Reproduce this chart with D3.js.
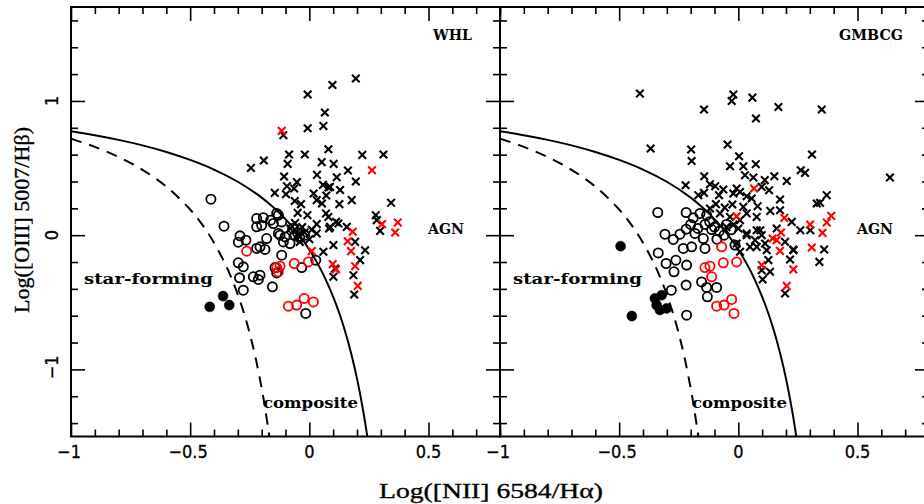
<!DOCTYPE html>
<html><head><meta charset="utf-8">
<script src="https://cdn.jsdelivr.net/npm/d3@7"></script>
<style>body{margin:0;background:#fff}svg{display:block}</style>
</head><body><svg id="c" width="924" height="504"></svg>
<script>
// ---------- DATA ----------
const panelNames = ["WHL", "GMBCG"];
const xDomain = [-1, 0.8];
const yDomain = [-1.5, 1.7];
const xMajorTicks = [-1, -0.5, 0, 0.5];
const yMajorTicks = [-1, 0, 1];
const xTickLabels = ["\u22121", "\u22120.5", "0", "0.5"];
const yTickLabels = ["\u22121", "0", "1"];

// Kewley et al. 2001 (solid) and Kauffmann et al. 2003 (dashed) demarcation points
const kewleyCurve = [[-1,0.775],[-0.9,0.745],[-0.8,0.710],[-0.7,0.669],[-0.6,0.620],[-0.5,0.561],[-0.4,0.489],[-0.3,0.398],[-0.2,0.280],[-0.15,0.206],[-0.1,0.120],[-0.05,0.017],[0,-0.108],[0.05,-0.262],[0.1,-0.459],[0.125,-0.578],[0.15,-0.716],[0.175,-0.878],[0.2,-1.069],[0.225,-1.300],[0.243,-1.497]];
const kauffmannCurve = [[-1,0.719],[-0.9,0.658],[-0.8,0.582],[-0.7,0.487],[-0.6,0.362],[-0.5,0.191],[-0.45,0.080],[-0.4,-0.056],[-0.35,-0.225],[-0.325,-0.327],[-0.3,-0.443],[-0.275,-0.577],[-0.25,-0.733],[-0.225,-0.918],[-0.2,-1.14],[-0.185,-1.296],[-0.168,-1.498]];

// WHL panel
const whlAgn = [[0.195,1.167],[0.097,1.119],[-0.007,1.048],[0.065,0.914],[-0.007,0.797],[0.059,0.814],[-0.109,0.745],[-0.085,0.601],[-0.019,0.601],[0.080,0.640],[0.222,0.598],[0.311,0.601],[-0.245,0.501],[-0.191,0.556],[-0.091,0.531],[0.052,0.544],[0.102,0.531],[0.162,0.482],[-0.106,0.437],[0.032,0.449],[0.115,0.432],[0.195,0.400],[-0.052,0.395],[-0.094,0.365],[-0.064,0.348],[0.057,0.375],[0.080,0.355],[0.129,0.337],[-0.145,0.315],[-0.098,0.305],[0.018,0.310],[0.071,0.296],[-0.061,0.255],[-0.035,0.231],[0.031,0.261],[0.053,0.236],[0.126,0.231],[0.178,0.261],[0.343,0.241],[-0.049,0.166],[-0.008,0.149],[0.070,0.162],[0.080,0.136],[0.112,0.099],[0.279,0.149],[0.283,0.112],[0.031,0.082],[0.083,0.050],[0.157,0.062],[0.297,0.032],[0.031,0.013],[0.122,0.087],[0.192,-0.050],[0.234,-0.112],[0.213,-0.186],[0.101,-0.074],[0.059,-0.124],[0.101,-0.310],[0.108,-0.248],[0.185,-0.298],[0.188,-0.442],[-0.08,0.05],[-0.05,0.0],[-0.03,0.06],[-0.02,0.02],[0.0,-0.03],[-0.06,0.09],[0.01,0.04],[-0.04,-0.05],[0.087,0.360],[0.087,0.062]];
const whlAgnRed = [[-0.116,0.777],[0.263,0.484],[0.305,0.082],[0.371,0.095],[0.360,0.020],[0.182,0.025],[0.010,-0.119],[0.161,-0.045],[0.175,-0.119],[0.098,-0.216],[0.112,-0.255],[0.192,-0.231],[0.203,-0.378]];
const whlComp = [[-0.413,0.268],[-0.358,0.067],[-0.221,0.124],[-0.193,0.130],[-0.200,0.074],[-0.221,0.062],[-0.162,0.112],[-0.130,0.149],[-0.151,0.087],[-0.116,0.099],[-0.137,0.162],[-0.291,-0.005],[-0.266,-0.037],[-0.298,-0.052],[-0.179,-0.025],[-0.207,-0.087],[-0.221,-0.099],[-0.186,-0.106],[-0.123,0.0],[-0.109,-0.050],[-0.081,-0.062],[-0.130,0.013],[-0.102,-0.013],[-0.116,-0.149],[-0.298,-0.206],[-0.277,-0.236],[-0.235,-0.310],[-0.214,-0.330],[-0.207,-0.298],[-0.293,-0.318],[-0.277,-0.410],[-0.155,-0.385],[-0.144,-0.241],[-0.137,-0.281],[-0.032,-0.241],[0.027,-0.186],[-0.015,-0.583],[-0.07,0.05],[-0.05,0.02],[-0.04,-0.02],[-0.06,0.0],[-0.02,0.0]];
const whlCompRed = [[-0.263,-0.119],[-0.137,-0.241],[-0.123,-0.231],[-0.130,-0.273],[-0.063,-0.211],[-0.004,-0.199],[-0.088,-0.529],[-0.053,-0.521],[-0.022,-0.471],[0.017,-0.497]];
const whlSF = [[-0.362,-0.454],[-0.418,-0.534],[-0.336,-0.521]];

// GMBCG panel
const gmbAgn = [[-0.413,1.055],[-0.021,1.048],[-0.028,1.0],[0.059,1.025],[-0.144,0.936],[0.168,0.955],[0.074,0.869],[0.350,0.936],[-0.368,0.646],[-0.198,0.638],[-0.196,0.553],[-0.045,0.675],[0.003,0.588],[-0.035,0.514],[0.021,0.514],[0.073,0.529],[0.309,0.601],[0.262,0.484],[0.280,0.464],[-0.143,0.439],[0.028,0.447],[0.063,0.430],[0.151,0.439],[0.203,0.404],[0.111,0.410],[-0.221,0.372],[-0.119,0.380],[-0.097,0.365],[-0.063,0.340],[-0.007,0.348],[0.007,0.322],[0.098,0.360],[0.129,0.335],[-0.168,0.298],[-0.144,0.315],[-0.081,0.298],[0.035,0.290],[-0.021,0.310],[0.175,0.266],[0.371,0.298],[0.343,0.241],[-0.025,0.229],[0.021,0.211],[0.056,0.273],[0.081,0.216],[0.134,0.181],[0.175,0.186],[0.224,0.099],[0.260,0.037],[0.302,0.037],[0.161,0.050],[-0.094,0.231],[-0.119,0.199],[-0.077,0.162],[-0.035,0.136],[0.007,0.112],[0.035,0.162],[0.077,0.136],[0.077,0.037],[0.035,0.013],[0.636,0.430],[0.360,-0.107],[0.231,-0.107],[0.329,0.236],[-0.057,0.205],[0.092,0.037],[0.098,0.0],[0.035,0.0],[0.049,-0.087],[0.070,-0.037],[0.112,-0.062],[0.077,-0.087],[0.119,-0.112],[0.126,-0.186],[0.196,-0.050],[0.217,-0.181],[0.098,-0.261],[0.133,-0.273],[0.102,-0.330],[0.231,-0.112],[0.196,-0.434],[0.340,-0.199],[-0.007,-0.062],[0.007,-0.124],[-0.05,0.06],[-0.02,0.08],[0.0,0.05]];
const gmbAgnRed = [[0.066,0.348],[-0.007,0.141],[0.193,0.129],[0.390,0.144],[0.371,0.095],[0.301,0.080],[0.353,0.017],[0.179,0.020],[0.144,-0.025],[0.308,-0.092],[0.175,-0.117],[0.161,-0.037],[0.098,-0.223],[0.231,-0.255],[0.203,-0.378]];
const gmbComp = [[-0.338,0.169],[-0.219,0.169],[-0.189,0.129],[-0.161,0.162],[-0.133,0.149],[-0.308,0.007],[-0.273,-0.032],[-0.245,0.007],[-0.219,0.045],[-0.182,0.013],[-0.147,-0.025],[-0.112,0.042],[-0.231,-0.099],[-0.196,-0.087],[-0.140,-0.099],[-0.336,-0.132],[-0.303,-0.211],[-0.262,-0.186],[-0.270,-0.273],[-0.217,-0.223],[-0.281,-0.410],[-0.219,-0.372],[-0.154,-0.348],[-0.133,-0.389],[-0.091,-0.389],[-0.130,-0.459],[-0.217,-0.596],[-0.014,-0.074],[-0.2,0.08],[-0.17,0.05],[-0.14,0.08],[-0.12,0.10],[-0.10,0.06],[-0.08,0.03],[-0.06,0.0],[-0.09,-0.03],[-0.05,0.08],[-0.03,0.04]];
const gmbCompRed = [[-0.070,-0.087],[-0.140,-0.241],[-0.119,-0.231],[-0.112,-0.310],[-0.063,-0.206],[-0.007,-0.199],[-0.091,-0.529],[-0.060,-0.521],[-0.028,-0.479],[-0.018,-0.583]];
const gmbSF = [[-0.494,-0.082],[-0.350,-0.471],[-0.343,-0.521],[-0.329,-0.558],[-0.301,-0.546],[-0.322,-0.447],[-0.447,-0.603]];

const panelData = [
  {agn: whlAgn, agnRed: whlAgnRed, comp: whlComp, compRed: whlCompRed, sf: whlSF},
  {agn: gmbAgn, agnRed: gmbAgnRed, comp: gmbComp, compRed: gmbCompRed, sf: gmbSF}
];

// ---------- DRAW ----------
const svg = d3.select("#c");
const W = 429, left0 = 71, topY = 7, bottomY = 436.5;
const y = d3.scaleLinear().domain(yDomain).range([bottomY, topY]);
const serif = "'Liberation Serif', 'DejaVu Serif', serif";
const annFont = "'DejaVu Serif', serif";
const tickFont = "'DejaVu Sans Condensed','DejaVu Sans', sans-serif";

svg.append("defs").selectAll("clipPath").data([0,1]).join("clipPath")
  .attr("id", d => "clip" + d)
  .append("rect").attr("x", d => left0 + d * W).attr("y", topY).attr("width", W).attr("height", bottomY - topY);

panelNames.forEach((name, i) => {
  const x0 = left0 + i * W;
  const x = d3.scaleLinear().domain(xDomain).range([x0, x0 + W]);
  const g = svg.append("g");
  const d = panelData[i];

  const minorX = d3.range(-10, 9).map(v => v / 10).filter(v => !xMajorTicks.some(m => Math.abs(m - v) < 1e-9));
  const minorY = d3.range(-7, 9).map(v => v / 5).filter(v => !yMajorTicks.some(m => Math.abs(m - v) < 1e-9));

  const addAxis = (axis, tr) => {
    const a = g.append("g").attr("transform", tr).call(axis);
    a.select(".domain").remove();
    a.selectAll("text").remove();
    a.selectAll("line").attr("stroke", "#000").attr("stroke-width", 1.6);
  };
  addAxis(d3.axisBottom(x).tickValues(minorX).tickSizeInner(-7).tickSizeOuter(0), `translate(0,${bottomY})`);
  addAxis(d3.axisBottom(x).tickValues(xMajorTicks).tickSizeInner(-14).tickSizeOuter(0), `translate(0,${bottomY})`);
  addAxis(d3.axisTop(x).tickValues(minorX).tickSizeInner(-7).tickSizeOuter(0), `translate(0,${topY})`);
  addAxis(d3.axisTop(x).tickValues(xMajorTicks).tickSizeInner(-14).tickSizeOuter(0), `translate(0,${topY})`);
  addAxis(d3.axisLeft(y).tickValues(minorY).tickSizeInner(-7).tickSizeOuter(0), `translate(${x0},0)`);
  addAxis(d3.axisLeft(y).tickValues(yMajorTicks).tickSizeInner(-14).tickSizeOuter(0), `translate(${x0},0)`);
  addAxis(d3.axisRight(y).tickValues(minorY).tickSizeInner(-7).tickSizeOuter(0), `translate(${x0 + W},0)`);
  addAxis(d3.axisRight(y).tickValues(yMajorTicks).tickSizeInner(-14).tickSizeOuter(0), `translate(${x0 + W},0)`);

  g.append("rect").attr("x", x0).attr("y", topY).attr("width", W).attr("height", bottomY - topY)
    .attr("fill", "none").attr("stroke", "#000").attr("stroke-width", 2);

  g.selectAll(".xl").data(xMajorTicks).join("text")
    .attr("x", v => x(v) + (v < 0 ? -2 : 0)).attr("y", 458)
    .attr("text-anchor", "middle")
    .attr("font-family", tickFont).attr("font-size", 18)
    .attr("stroke", "#000").attr("stroke-width", 0.3)
    .text((v, k) => xTickLabels[k]);

  if (i === 0) {
    g.selectAll(".yl").data(yMajorTicks).join("text")
      .attr("transform", v => `translate(58,${y(v) + (v < 0 ? -2 : 0)}) rotate(-90)`)
      .attr("text-anchor", "middle")
      .attr("font-family", tickFont).attr("font-size", 18)
      .attr("stroke", "#000").attr("stroke-width", 0.3)
      .text((v, k) => yTickLabels[k]);
  }

  const pg = g.append("g").attr("clip-path", `url(#clip${i})`);
  const line = d3.line().x(p => x(p[0])).y(p => y(p[1])).curve(d3.curveCatmullRom);
  pg.append("path").attr("d", line(kewleyCurve)).attr("fill", "none").attr("stroke", "#000").attr("stroke-width", 2);
  pg.append("path").attr("d", line(kauffmannCurve)).attr("fill", "none").attr("stroke", "#000").attr("stroke-width", 2)
    .attr("stroke-dasharray", "11,8");

  const circles = (arr, color, filled) => pg.append("g").selectAll("circle").data(arr).join("circle")
    .attr("cx", p => x(p[0])).attr("cy", p => y(p[1])).attr("r", filled ? 5 : 4.6)
    .attr("fill", filled ? color : "none").attr("stroke", color).attr("stroke-width", filled ? 0.5 : 1.8);
  const crosses = (arr, color) => pg.append("g").selectAll("path").data(arr).join("path")
    .attr("d", p => { const cx = x(p[0]), cy = y(p[1]), s = 3.8;
      return `M${cx - s},${cy - s}L${cx + s},${cy + s}M${cx - s},${cy + s}L${cx + s},${cy - s}`; })
    .attr("stroke", color).attr("stroke-width", 2.1).attr("fill", "none");

  circles(d.comp, "#000", false);
  circles(d.compRed, "#ff0000", false);
  circles(d.sf, "#000", true);
  crosses(d.agn, "#000");
  crosses(d.agnRed, "#ff0000");

  const ann = (t, px, py, len) => g.append("text").attr("x", px).attr("y", py)
    .attr("font-family", annFont).attr("font-weight", "bold").attr("font-size", 15)
    .attr("textLength", len).attr("lengthAdjust", "spacingAndGlyphs").text(t);
  ann(name, x0 + (i === 0 ? 362 : 339), 40, i === 0 ? 39 : 64);
  ann("AGN", x0 + 357, 234, 36);
  ann("star-forming", x0 + 13, 284, 129);
  ann("composite", x0 + 192, 408, 95);
});

svg.append("text").attr("x", 491).attr("y", 498).attr("text-anchor", "middle")
  .attr("font-family", serif).attr("font-size", 22)
  .attr("stroke", "#000").attr("stroke-width", 0.35)
  .attr("textLength", 224).attr("lengthAdjust", "spacingAndGlyphs")
  .text("Log([NII] 6584/H\u03b1)");
svg.append("text").attr("transform", "translate(29,220) rotate(-90)").attr("text-anchor", "middle")
  .attr("font-family", serif).attr("font-size", 22)
  .attr("stroke", "#000").attr("stroke-width", 0.35)
  .attr("textLength", 186).attr("lengthAdjust", "spacingAndGlyphs")
  .text("Log([OIII] 5007/H\u03b2)");
</script></body></html>
